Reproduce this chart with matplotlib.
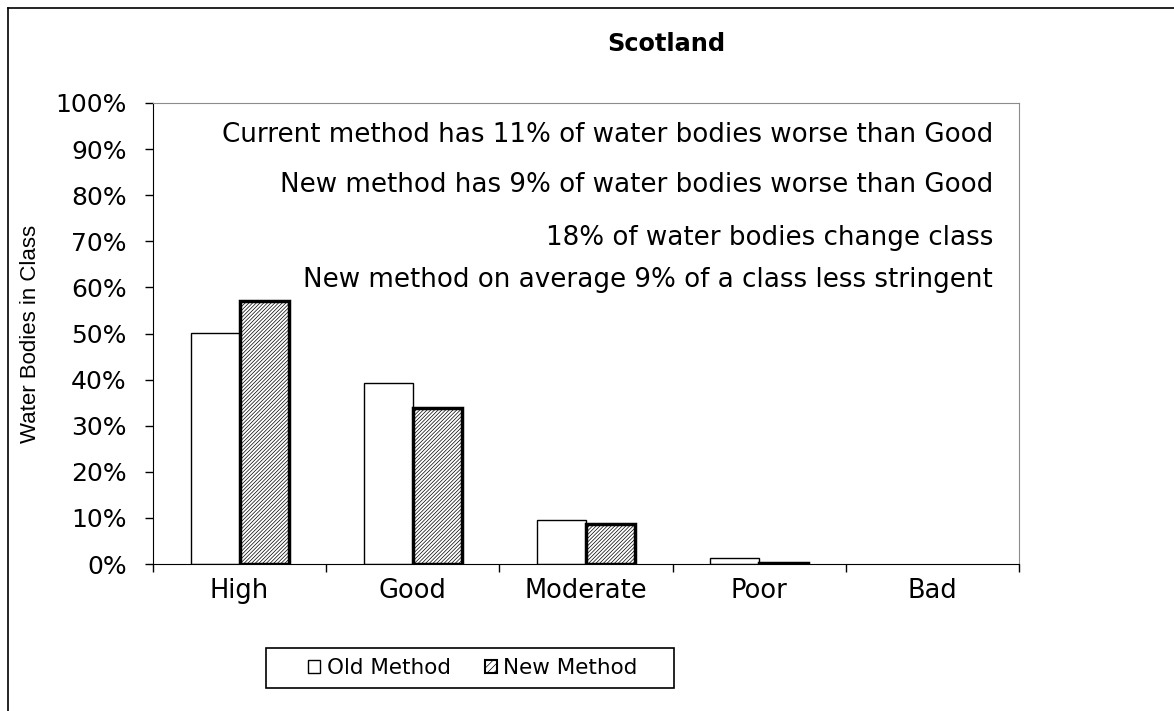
import numpy as np
import matplotlib.pyplot as plt
from matplotlib.lines import Line2D
from matplotlib.patches import Patch, Rectangle

# class shares (%) of water bodies
classes = ['High', 'Good', 'Moderate', 'Poor', 'Bad']
old_method = [50.2, 39.2, 9.5, 1.4, 0.0]
new_method = [57.0, 33.9, 8.7, 0.3, 0.0]
notes = [
    'Current method has 11% of water bodies worse than Good',
    'New method has 9% of water bodies worse than Good',
    '18% of water bodies change class',
    'New method on average 9% of a class less stringent',
]

plt.rcParams['font.family'] = ['DejaVu Sans']
plt.rcParams['hatch.linewidth'] = 0.5

fig = plt.figure(figsize=(11.74, 7.11), dpi=100)
ax = fig.add_axes([153 / 1174, 1 - 564 / 711, 866 / 1174, 461 / 711])

x = np.arange(len(classes))
w = 0.283
ax.bar(x - w / 2, old_method, w, color='white', edgecolor='black',
       linewidth=[1.0 if v > 0 else 0 for v in old_method])
ax.bar(x + w / 2, new_method, w, color='white', edgecolor='black',
       linewidth=[2.5 if v > 0 else 0 for v in new_method], hatch='/////////')

ax.set_xlim(-0.5, len(classes) - 0.5)
ax.set_ylim(0, 100)
ax.set_yticks(np.arange(0, 101, 10))
ax.set_yticklabels([f'{v}%' for v in range(0, 101, 10)], fontsize=18)
ax.set_xticks(x)
ax.set_xticklabels(classes, fontsize=18.5)
ax.set_xticks(np.arange(-0.5, len(classes)), minor=True)
ax.tick_params(axis='x', which='major', length=0, pad=10)
ax.tick_params(axis='x', which='minor', length=6, width=1)
ax.tick_params(axis='y', length=6, width=1, pad=13)
for s in ['top', 'right']:
    ax.spines[s].set_color('#8c8c8c')
ax.set_ylabel('Water Bodies in Class', fontsize=16, labelpad=10,
              family=['Liberation Sans'])

for note, yy in zip(notes, [0.915, 0.807, 0.692, 0.601]):
    ax.text(0.970, yy, note, transform=ax.transAxes, ha='right', va='baseline',
            fontsize=18.8)

fig.text(666 / 1174, 1 - 44 / 711, 'Scotland', ha='center', va='center',
         fontsize=17.3, fontweight='bold')

# legend: entries without frame, box drawn separately
handles = [Patch(facecolor='white', edgecolor='black', linewidth=1.0),
           Patch(facecolor='white', edgecolor='black', linewidth=1.5, hatch='/////')]
fig.legend(handles, ['Old Method', 'New Method'], loc='center',
           bbox_to_anchor=(473 / 1174, 1 - 668 / 711), ncol=2, fontsize=15.5,
           frameon=False, handlelength=0.55, handleheight=0.55,
           handletextpad=0.3, columnspacing=1.6, borderpad=0, borderaxespad=0)
fig.add_artist(Rectangle((266 / 1174, 1 - 688 / 711), 408 / 1174, 40 / 711,
                         transform=fig.transFigure, facecolor='none',
                         edgecolor='black', linewidth=1.2))

# outer frame of the chart
fig.add_artist(Line2D([8 / 1174, 8 / 1174], [0, 1 - 8 / 711], color='black', lw=1.2))
fig.add_artist(Line2D([8 / 1174, 1], [1 - 8 / 711, 1 - 8 / 711], color='black', lw=1.2))

fig.savefig('out.png', dpi=100)
